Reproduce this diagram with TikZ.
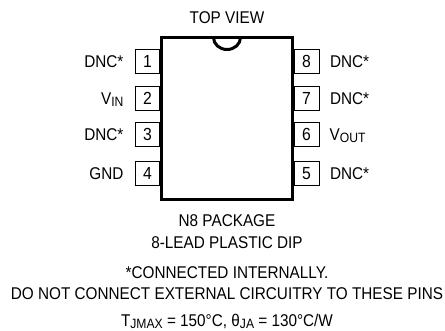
\documentclass[tikz,border=0pt]{standalone}
\usepackage{fontspec}
\setmainfont[FakeStretch=0.9]{Liberation Sans}
\usetikzlibrary{positioning}
\newcommand{\lowidx}[1]{\raisebox{-2pt}{\fontsize{13.5}{13.5}\selectfont #1}}
\tikzstyle{Body} = [draw, line width=3pt, minimum width=131pt, minimum height=162pt, inner sep=0pt]
\tikzstyle{Pin} = [draw, line width=0.6pt, minimum width=24.5pt, minimum height=23.5pt, inner sep=0pt,
font=\fontsize{17.5}{17.5}\selectfont]
\tikzstyle{Label} = [inner sep=0pt, outer sep=0pt, text height=12pt, text depth=0pt,
font=\fontsize{17}{17}\selectfont]

\begin{document}
\begin{tikzpicture}[x=1pt, y=1pt]
    \useasboundingbox (0,0) rectangle (445,331);
    \node [Body] (body) at (227,212.5) {};
    \draw [line width=3pt] ([xshift=-13.5pt,yshift=-1.5pt]body.north) arc [start angle=180, end angle=360, x radius=13.5pt, y radius=12pt];
    \node [Label, above =12pt of body] (view) {TOP VIEW};
    \node [Pin, left =0pt of body.north west, yshift=-25.5pt] (1) {1};
    \node [Pin, below =12.5pt of 1] (2) {2};
    \node [Pin, below =12pt of 2] (3) {3};
    \node [Pin, below =15pt of 3] (4) {4};
    \node [Pin, right =0pt of body.north east, yshift=-25.5pt] (8) {8};
    \node [Pin, below =12.5pt of 8] (7) {7};
    \node [Pin, below =12pt of 7] (6) {6};
    \node [Pin, below =15pt of 6] (5) {5};
    \node [Label, left =11.5pt of 1] (dnc1) {DNC*};
    \node [Label, left =11.5pt of 2] (vin) {V\lowidx{IN}};
    \node [Label, left =11.5pt of 3] (dnc3) {DNC*};
    \node [Label, left =11.5pt of 4] (gnd) {GND};
    \node [Label, right =11pt of 8] (dnc8) {DNC*};
    \node [Label, right =11pt of 7] (dnc7) {DNC*};
    \node [Label, right =10.5pt of 6] (vout) {V\lowidx{OUT}};
    \node [Label, right =11pt of 5] (dnc5) {DNC*};
    \node [Label, below =14pt of body] (package) {N8 PACKAGE};
    \node [Label, below =10pt of package] (lead) {8-LEAD PLASTIC DIP};
    \node [Label, below =18pt of lead] (note) {*CONNECTED INTERNALLY.};
    \node [Label, below =9pt of note] (warning) {DO NOT CONNECT EXTERNAL CIRCUITRY TO THESE PINS};
    \node [Label, below =14.5pt of warning] (thermal) {T\lowidx{JMAX} = 150°C, θ\lowidx{JA} = 130°C/W};
\end{tikzpicture}
\end{document}
